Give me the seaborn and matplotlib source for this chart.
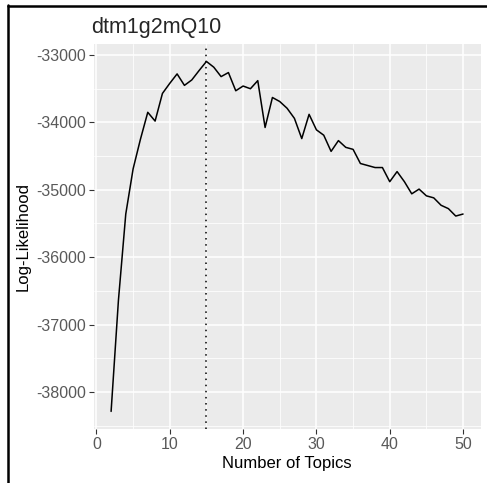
import pandas as pd
import seaborn as sns
import matplotlib.pyplot as plt
from matplotlib.ticker import MultipleLocator

# number of topics vs log-likelihood
topics = list(range(2, 51))
loglik = [-38290, -36640, -35360, -34690, -34250, -33850, -33980, -33570, -33420,
          -33280, -33450, -33370, -33230, -33095, -33180, -33320, -33260, -33530,
          -33460, -33500, -33380, -34075, -33630, -33690, -33790, -33940, -34240,
          -33880, -34110, -34190, -34430, -34270, -34370, -34400, -34610, -34640,
          -34670, -34670, -34880, -34730, -34880, -35060, -34990, -35090, -35120,
          -35230, -35280, -35390, -35360]
best_k = 15
title = "dtm1g2mQ10"

df = pd.DataFrame({"topics": topics, "loglik": loglik})

sns.set_theme(style="darkgrid", rc={
    "axes.facecolor": "#EBEBEB",
    "grid.color": "white",
    "axes.edgecolor": "#EBEBEB",
})
plt.rcParams["font.family"] = ["Liberation Sans", "DejaVu Sans"]
plt.rcParams["axes.unicode_minus"] = False

fig = plt.figure(figsize=(4.87, 4.83), dpi=100)
ax = fig.add_axes([0.192, 0.112, 0.795, 0.797])

sns.lineplot(data=df, x="topics", y="loglik", color="black", lw=1.1, ax=ax)
ax.axvline(best_k, color="black", lw=1.1, ls=(0, (1, 3)))

# ggplot-like expansion of the limits
xr = max(topics) - min(topics)
yr = max(loglik) - min(loglik)
ax.set_xlim(min(topics) - 0.05 * xr, max(topics) + 0.05 * xr)
ax.set_ylim(min(loglik) - 0.05 * yr, max(loglik) + 0.05 * yr)

ax.xaxis.set_major_locator(MultipleLocator(10))
ax.xaxis.set_minor_locator(MultipleLocator(5))
ax.yaxis.set_major_locator(MultipleLocator(1000))
ax.yaxis.set_minor_locator(MultipleLocator(500))
ax.grid(which="major", color="white", lw=1.1)
ax.grid(which="minor", color="white", lw=0.55)
for s in ax.spines.values():
    s.set_visible(False)

ax.tick_params(which="major", length=3.5, width=0.8, color="#333333",
               labelsize=11.5, labelcolor="#595959", pad=2, bottom=True, left=True)
ax.tick_params(which="minor", length=0)

ax.set_xlabel("Number of Topics", fontsize=12, color="black", labelpad=3)
ax.set_ylabel("Log-Likelihood", fontsize=12, color="black", labelpad=4)
ax.set_title(title, fontsize=15.5, loc="left", x=-0.005, pad=8)

# black frame at left and top of the screenshot
fig.add_artist(plt.Line2D([0.016, 0.016], [0, 0.99], color="black", lw=1.8,
                          transform=fig.transFigure))
fig.add_artist(plt.Line2D([0.016, 1.0], [0.988, 0.988], color="black", lw=1.8,
                          transform=fig.transFigure))

fig.savefig("out.png", dpi=100)
